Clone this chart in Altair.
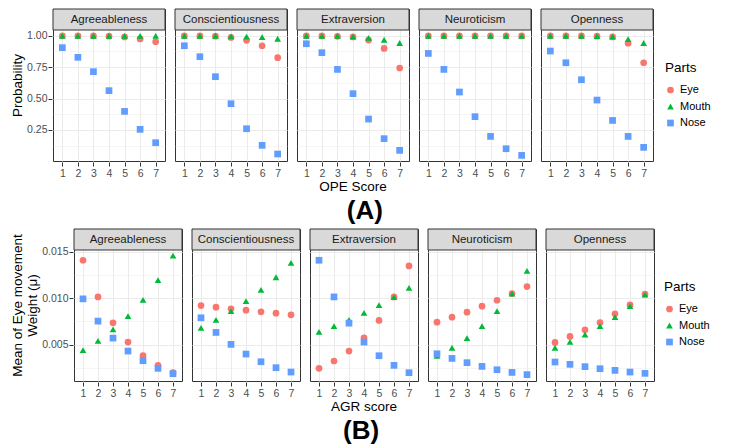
import altair as alt
import pandas as pd

traits = ["Agreeableness", "Conscientiousness", "Extraversion", "Neuroticism", "Openness"]
scores = [1, 2, 3, 4, 5, 6, 7]
parts = ["Eye", "Mouth", "Nose"]
part_colors = ["#F8766D", "#00BA38", "#619CFF"]
part_shapes = ["circle", "triangle-up", "square"]

# (A) Probability by OPE score
prob_eye = {
    "Agreeableness": [0.999, 0.999, 0.998, 0.996, 0.990, 0.974, 0.952],
    "Conscientiousness": [0.999, 0.998, 0.996, 0.986, 0.963, 0.920, 0.825],
    "Extraversion": [0.999, 0.998, 0.995, 0.990, 0.965, 0.899, 0.743],
    "Neuroticism": [0.999, 0.999, 0.999, 0.999, 0.999, 0.999, 0.998],
    "Openness": [0.999, 0.999, 0.998, 0.996, 0.990, 0.940, 0.785],
}
prob_mouth = {
    "Agreeableness": [0.999, 0.999, 0.999, 0.999, 0.999, 0.999, 0.999],
    "Conscientiousness": [0.999, 0.999, 0.998, 0.995, 0.992, 0.988, 0.976],
    "Extraversion": [0.999, 0.999, 0.998, 0.993, 0.982, 0.968, 0.942],
    "Neuroticism": [0.999, 0.999, 0.999, 0.999, 0.999, 0.999, 0.999],
    "Openness": [0.999, 0.999, 0.999, 0.997, 0.992, 0.973, 0.942],
}
prob_nose = {
    "Agreeableness": [0.905, 0.828, 0.714, 0.563, 0.398, 0.255, 0.149],
    "Conscientiousness": [0.920, 0.833, 0.674, 0.459, 0.260, 0.128, 0.059],
    "Extraversion": [0.936, 0.865, 0.732, 0.539, 0.337, 0.181, 0.088],
    "Neuroticism": [0.859, 0.732, 0.552, 0.356, 0.199, 0.101, 0.048],
    "Openness": [0.878, 0.785, 0.650, 0.488, 0.326, 0.199, 0.112],
}

# (B) Mean eye-movement weight by AGR score
mean_eye = {
    "Agreeableness": [0.01409, 0.01014, 0.00735, 0.00527, 0.00380, 0.00276, 0.00197],
    "Conscientiousness": [0.00921, 0.00903, 0.00885, 0.00871, 0.00853, 0.00839, 0.00821],
    "Extraversion": [0.00244, 0.00323, 0.00430, 0.00573, 0.00760, 0.01014, 0.01348],
    "Neuroticism": [0.00742, 0.00796, 0.00849, 0.00914, 0.00978, 0.01050, 0.01125],
    "Openness": [0.00523, 0.00588, 0.00660, 0.00738, 0.00832, 0.00928, 0.01043],
}
mean_mouth = {
    "Agreeableness": [0.00441, 0.00541, 0.00663, 0.00806, 0.00982, 0.01194, 0.01459],
    "Conscientiousness": [0.00681, 0.00767, 0.00860, 0.00968, 0.01090, 0.01226, 0.01380],
    "Extraversion": [0.00638, 0.00699, 0.00767, 0.00842, 0.00925, 0.01011, 0.01111],
    "Neuroticism": [0.00380, 0.00466, 0.00570, 0.00699, 0.00860, 0.01050, 0.01294],
    "Openness": [0.00466, 0.00530, 0.00609, 0.00699, 0.00796, 0.00914, 0.01039],
}
mean_nose = {
    "Agreeableness": [0.00993, 0.00753, 0.00570, 0.00430, 0.00326, 0.00244, 0.00186],
    "Conscientiousness": [0.00789, 0.00631, 0.00502, 0.00398, 0.00315, 0.00251, 0.00204],
    "Extraversion": [0.01409, 0.01014, 0.00731, 0.00527, 0.00380, 0.00276, 0.00197],
    "Neuroticism": [0.00401, 0.00351, 0.00305, 0.00265, 0.00229, 0.00200, 0.00176],
    "Openness": [0.00312, 0.00287, 0.00262, 0.00240, 0.00222, 0.00204, 0.00190],
}

a_major = [0.25, 0.5, 0.75, 1.0]
a_minor = [0.125, 0.375, 0.625, 0.875]
b_major = [0.005, 0.010, 0.015]
b_minor = [0.0025, 0.0075, 0.0125]

FONT = "Liberation Sans"
STRIP = 21


def frame(eye, mouth, nose):
    rows = []
    for part, table in zip(parts, [eye, mouth, nose]):
        for t in traits:
            for s, v in zip(scores, table[t]):
                rows.append({"Trait": t, "Score": s, "Parts": part, "Value": v})
    return pd.DataFrame(rows)


def panel(df, width, height, ydomain, major, minor, fmt, ytitle, xtitle, label, lx, ly, tdx):
    minor_js = "[" + ",".join(repr(m) for m in minor) + "]"
    is_minor = f"indexof({minor_js}, datum.value) >= 0"
    legend = alt.Legend(
        title="Parts", orient="none", legendX=lx, legendY=ly,
        titleFontSize=13.5, titleFontWeight="normal", titleColor="black", titleFont=FONT,
        labelFontSize=11, labelColor="black", labelFont=FONT,
        symbolSize=45, rowPadding=4.5, titlePadding=10,
    )
    base = alt.Chart(df)
    points = base.mark_point(filled=True, size=45, opacity=1).encode(
        x=alt.X("Score:Q",
                scale=alt.Scale(domain=[0.4, 7.6], nice=False, zero=False),
                axis=alt.Axis(values=scores, title=None, format="d", domain=False,
                              tickColor="#333333", tickSize=4, labelPadding=2,
                              labelFontSize=10.5, labelColor="#4D4D4D",
                              gridColor="#EBEBEB", gridWidth=1)),
        y=alt.Y("Value:Q",
                scale=alt.Scale(domain=ydomain, nice=False, zero=False),
                axis=alt.Axis(values=sorted(major + minor), title=ytitle,
                              labelExpr=f"{is_minor} ? '' : format(datum.value, '{fmt}')",
                              domain=False, tickColor="#333333", tickSize=4, labelPadding=1,
                              tickOpacity={"condition": {"test": is_minor, "value": 0}, "value": 1},
                              gridWidth={"condition": {"test": is_minor, "value": 0.5}, "value": 1},
                              gridColor="#EBEBEB",
                              labelFontSize=10.5, labelColor="#4D4D4D",
                              titleFontSize=13.5, titleFontWeight="normal", titleColor="black",
                              titlePadding=2)),
        color=alt.Color("Parts:N", scale=alt.Scale(domain=parts, range=part_colors), legend=legend),
        shape=alt.Shape("Parts:N", scale=alt.Scale(domain=parts, range=part_shapes), legend=legend),
        order=alt.Order("order:Q"),
    ).transform_calculate(order="indexof(['Eye','Mouth','Nose'], datum.Parts)")
    one = "datum.Score == 1 && datum.Parts == 'Eye'"
    strip = base.transform_filter(one).mark_rect(
        fill="#D9D9D9", stroke="#333333", strokeWidth=1
    ).encode(x=alt.value(0), x2=alt.value(width), y=alt.value(0), y2=alt.value(STRIP))
    text = base.transform_filter(one).mark_text(
        fontSize=11.5, color="#1A1A1A", font=FONT, baseline="middle", align="center"
    ).encode(x=alt.value(width / 2), y=alt.value(STRIP / 2 + 0.5), text="Trait:N")
    layered = alt.layer(points, strip, text).properties(width=width, height=height)
    return layered.facet(
        column=alt.Column("Trait:N", sort=traits,
                          header=alt.Header(labels=False, labelPadding=0, title=xtitle,
                                            titleOrient="bottom",
                                            titleFontSize=13.5, titleFontWeight="normal",
                                            titleColor="black", titleFont=FONT, titlePadding=-9)),
        spacing=8,
        title=alt.TitleParams(label, orient="bottom", fontSize=26, fontWeight="bold",
                              anchor="middle", font=FONT, color="black", offset=4, dx=tdx),
    )


def spacer():
    return alt.Chart(pd.DataFrame({"v": [0]})).mark_point(opacity=0).encode(
        x=alt.value(0), y=alt.value(0)
    ).properties(width=1, height=1, view=alt.ViewBackground(strokeOpacity=0))


df_a = frame(prob_eye, prob_mouth, prob_nose)
df_b = frame(mean_eye, mean_mouth, mean_nose)

chart_a = panel(df_a, 112, 152, [0.0034, 1.2124], a_major, a_minor, ".2f",
                "Probability", "OPE Score", "(A)", 612, 52, 4)
chart_b = panel(df_b, 108, 152, [0.001075, 0.01746], b_major, b_minor, ".3f",
                ["Mean of Eye movement", "Weight (μ)"], "AGR score", "(B)", 590, 51, 1)

chart = alt.ConcatChart(
    concat=[spacer(), chart_a, spacer(), chart_b], columns=2,
    align={"row": "each", "column": "none"}, spacing={"row": 2, "column": 0},
).resolve_legend(
    color="independent", shape="independent"
).properties(padding={"left": -4, "top": -2, "right": 0, "bottom": 0}).configure(
    font=FONT
).configure_view(stroke="#333333", strokeWidth=1)

chart.save("out.html", embed_options={"renderer": "svg", "actions": False})
